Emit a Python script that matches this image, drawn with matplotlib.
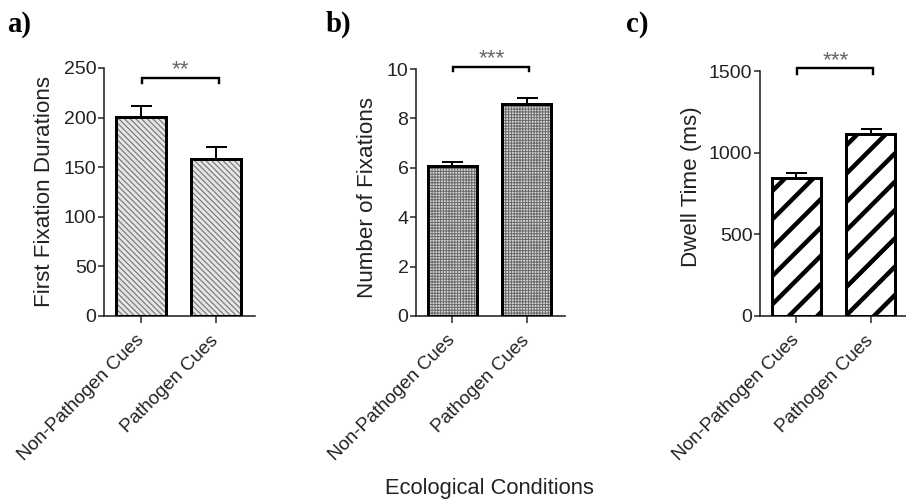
import matplotlib
matplotlib.use('Agg')
import matplotlib.pyplot as plt

DPI = 85
W, H = 906, 500
PT = 72 / DPI  # points per pixel

# ---- data ----
categories = ['Non-Pathogen Cues', 'Pathogen Cues']
first_fix_mean = [201, 158]
first_fix_err = [11, 12]
num_fix_mean = [6.08, 8.57]
num_fix_err = [0.15, 0.27]
dwell_mean = [845, 1112]
dwell_err = [32, 31]
panel_labels = ['a)', 'b)', 'c)']
ylabels = ['First Fixation Durations', 'Number of Fixations', 'Dwell Time (ms)']
yticks_a = [0, 50, 100, 150, 200, 250]
yticks_b = [0, 2, 4, 6, 8, 10]
yticks_c = [0, 500, 1000, 1500]
sig_labels = ['**', '***', '***']
bracket_top = [240, 10.1, 1516]
bracket_bot = [235, 9.9, 1482]
xlabel = 'Ecological Conditions'

plt.rcParams['font.family'] = ['Liberation Sans', 'DejaVu Sans']

fig = plt.figure(figsize=(W / DPI, H / DPI), dpi=DPI)

# panel geometry in pixels: left, right, top, bottom
geo = [(104, 255, 68, 316), (416, 565, 69, 316), (760, 909, 71, 316)]
ylab_pos = [(45, 191.5), (367.5, 197.5), (692, 186.5)]
plab_pos = [(7, 24), (326, 24), (626, 24)]

styles = [
    dict(face='#e6e6e6', hcolor='#7a7a7a', hatch='\\\\\\\\\\', hlw=1.2 * PT),
    dict(face='#d9d9d9', hcolor='#6a6a6a', hatch='+++++', hlw=1.0 * PT),
    dict(face='white', hcolor='black', hatch='/', hlw=4.5 * PT),
]

means = [first_fix_mean, num_fix_mean, dwell_mean]
errs = [first_fix_err, num_fix_err, dwell_err]
ytick_sets = [yticks_a, yticks_b, yticks_c]

x = [0, 1]
bw = 0.67

for i in range(3):
    l, r, t, b = geo[i]
    ax = fig.add_axes([l / W, 1 - b / H, (r - l) / W, (b - t) / H])
    st = styles[i]
    with plt.rc_context({'hatch.linewidth': st['hlw']}):
        bars = ax.bar(x, means[i], bw, color=st['face'], edgecolor=st['hcolor'],
                      linewidth=0, hatch=st['hatch'], zorder=2)
    for p in bars:
        if hasattr(p, 'set_hatch_linewidth'):
            p.set_hatch_linewidth(st['hlw'])
    ax.bar(x, means[i], bw, fill=False, edgecolor='black', linewidth=3 * PT, zorder=3)
    ax.errorbar(x, means[i], yerr=[[0, 0], errs[i]], fmt='none', ecolor='black',
                elinewidth=2 * PT, capsize=10.5 * PT, capthick=2 * PT, zorder=4)

    yt = ytick_sets[i]
    ax.set_ylim(0, yt[-1])
    ax.set_xlim(-0.493, 1.52)
    ax.set_yticks(yt)
    ax.set_yticklabels([str(v) for v in yt], fontsize=16.5)
    ax.set_xticks(x)
    ax.set_xticklabels(categories, fontsize=16, rotation=45, ha='right', va='center',
                       rotation_mode='anchor')
    ax.tick_params(axis='y', length=6 * PT, width=1.5 * PT, pad=1.5 * PT, colors='#222222')
    ax.tick_params(axis='x', length=7 * PT, width=1.5 * PT, pad=15 * PT, colors='#222222')
    for s in ['top', 'right']:
        ax.spines[s].set_visible(False)
    for s in ['left', 'bottom']:
        ax.spines[s].set_linewidth(1.6 * PT)
        ax.spines[s].set_color('#222222')
    ax.set_facecolor('none')

    # significance bracket
    x0, x1 = 0.01, 1.04
    ax.plot([x0, x0, x1, x1], [bracket_bot[i], bracket_top[i], bracket_top[i], bracket_bot[i]],
            color='black', lw=2.4 * PT, clip_on=False, zorder=5, solid_joinstyle='miter')
    ax.annotate(sig_labels[i], xy=((x0 + x1) / 2, bracket_top[i]), xytext=(0, 8 * PT),
                textcoords='offset points', ha='center', va='center', fontsize=19,
                color='#666666', annotation_clip=False)

    # y label
    fig.text(ylab_pos[i][0] / W, 1 - ylab_pos[i][1] / H, ylabels[i], rotation=90,
             ha='center', va='center', fontsize=19, color='#222222')
    # panel label
    fig.text(plab_pos[i][0] / W, 1 - plab_pos[i][1] / H, panel_labels[i], ha='left', va='center',
             fontsize=24.5, fontweight='bold', family=['Liberation Serif', 'DejaVu Serif'])

fig.text(489 / W, 1 - 488 / H, xlabel, ha='center', va='center', fontsize=18.5, color='#222222')

fig.savefig('out.png', dpi=DPI)
